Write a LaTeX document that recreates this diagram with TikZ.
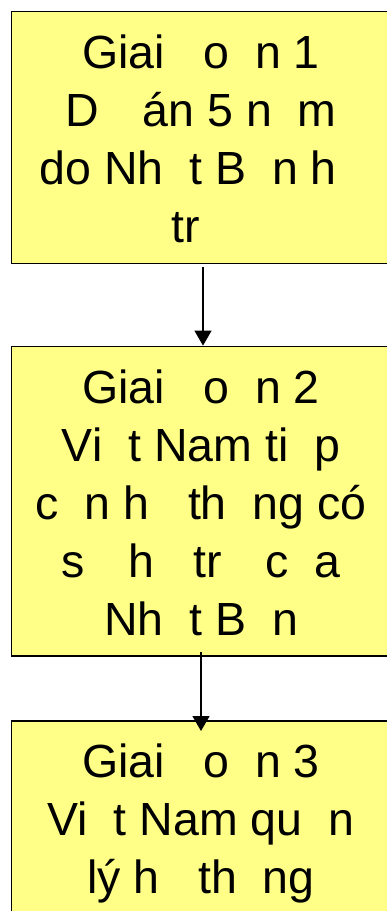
\documentclass[tikz,border=0pt]{standalone}
\usepackage{fontspec}
\setmainfont{Liberation Sans}
\usetikzlibrary{arrows.meta}
\definecolor{boxfill}{RGB}{255,255,136}
\tikzset{
  stagebox/.style={draw=black, line width=1.8pt, fill=boxfill, rectangle, minimum width=379pt, inner sep=0pt},
  stagetext/.style={align=center, anchor=base, inner sep=0pt, font=\fontsize{46.5}{58}\selectfont},
  flowarrow/.style={line width=1.3pt, -{Triangle[width=17pt,length=15pt]}}
}
\begin{document}
\begin{tikzpicture}[x=1pt,y=-1pt]
\useasboundingbox (0,0) rectangle (387,911);
\clip (0,0) rectangle (387,911);
\node[stagebox, minimum height=252pt] (b1) at (201,137.5) {};
\node[stagebox, minimum height=309.5pt] (b2) at (201,501.25) {};
\node[stagebox, minimum height=240pt] (b3) at (201,841) {};
\node[stagetext] (t1) at (201,242) {Giai \phantom{đ}o\phantom{ạ}n 1\\D\phantom{ự} án 5 n\phantom{ă}m\\do Nh\phantom{ậ}t B\phantom{ả}n h\phantom{ỗ}\\tr\phantom{ợ}};
\node[stagetext] (t2) at (201,635) {Giai \phantom{đ}o\phantom{ạ}n 2\\Vi\phantom{ệ}t Nam ti\phantom{ế}p\\c\phantom{ậ}n h\phantom{ệ} th\phantom{ố}ng có\\s\phantom{ự} h\phantom{ỗ} tr\phantom{ợ} c\phantom{ủ}a\\Nh\phantom{ậ}t B\phantom{ả}n};
\node[stagetext] (t3) at (201,893) {Giai \phantom{đ}o\phantom{ạ}n 3\\Vi\phantom{ệ}t Nam qu\phantom{ả}n\\lý h\phantom{ệ} th\phantom{ố}ng};
\coordinate (s1) at (203,267);
\draw[flowarrow] (s1) -- (s1 |- b2.north);
\coordinate (s2) at (201,652);
\coordinate (e2) at (201,731);
\draw[flowarrow] (s2) -- (e2);
\end{tikzpicture}
\end{document}
